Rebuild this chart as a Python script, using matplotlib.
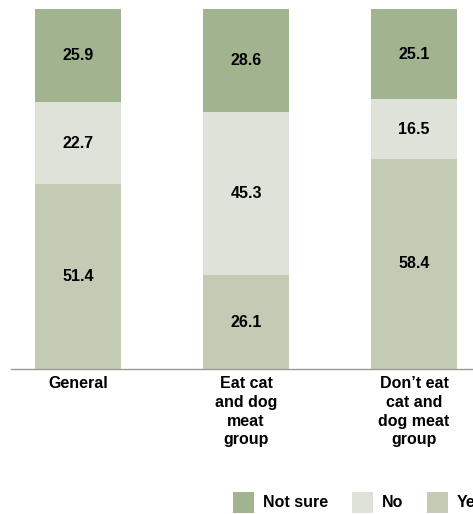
import numpy as np
import matplotlib.pyplot as plt

# ------------------------------------------------------------
# DATOS
# ------------------------------------------------------------

categorias = [
    "General",
    "Eat cat\nand dog\nmeat\ngroup",
    "Don\u2019t eat\ncat and\ndog meat\ngroup"
]

yes_vals = [51.4, 26.1, 58.4]
no_vals = [22.7, 45.3, 16.5]
not_sure_vals = [25.9, 28.6, 25.1]

color_yes = "#c4cbb4"
color_no = "#dfe2d8"
color_not_sure = "#a2b38f"

plt.rcParams["font.family"] = ["Liberation Sans", "DejaVu Sans"]
plt.rcParams["font.weight"] = "bold"

# ------------------------------------------------------------
# FIGURA
# ------------------------------------------------------------

fig = plt.figure(figsize=(4.73, 5.14), dpi=100)

ax = fig.add_axes([11 / 473, 145 / 514, 462 / 473, 360 / 514])

x = np.arange(len(categorias))
ancho = 86 / 168

yes_arr = np.array(yes_vals)
no_arr = np.array(no_vals)
ns_arr = np.array(not_sure_vals)

barras_yes = ax.bar(x, yes_arr, ancho, color=color_yes, label="Yes")
barras_no = ax.bar(x, no_arr, ancho, bottom=yes_arr, color=color_no, label="No")
barras_ns = ax.bar(
    x, ns_arr, ancho, bottom=yes_arr + no_arr,
    color=color_not_sure, label="Not sure"
)

for barras in [barras_yes, barras_no, barras_ns]:
    ax.bar_label(
        barras,
        labels=[f"{b.get_height():.1f}" for b in barras],
        label_type="center",
        fontsize=11.5,
        fontweight="bold",
        color="black"
    )

ax.set_xlim(-67 / 168, (473 - 78) / 168)
ax.set_ylim(0, 100)

ax.set_xticks(x)
ax.set_xticklabels(categorias, fontsize=11.5, fontweight="bold", linespacing=1.32)
ax.tick_params(axis="x", length=0, pad=5)
ax.set_yticks([])

for lado in ["top", "right", "left"]:
    ax.spines[lado].set_visible(False)

ax.spines["bottom"].set_color("#9a9a9a")
ax.spines["bottom"].set_linewidth(1.0)

# ------------------------------------------------------------
# LEYENDA (recortada en el borde, como en el original)
# ------------------------------------------------------------

ax.legend(
    handles=[barras_ns, barras_no, barras_yes],
    labels=["Not sure", "No", "Yes"],
    ncol=3,
    frameon=False,
    loc="upper left",
    bbox_to_anchor=(232.7 / 473, 1 - 492 / 514),
    bbox_transform=fig.transFigure,
    borderpad=0,
    borderaxespad=0,
    handlelength=1.31,
    handleheight=1.6,
    handletextpad=0.56,
    columnspacing=1.5,
    prop={"size": 11.5, "weight": "bold"}
)

fig.savefig("out.png", dpi=100)
